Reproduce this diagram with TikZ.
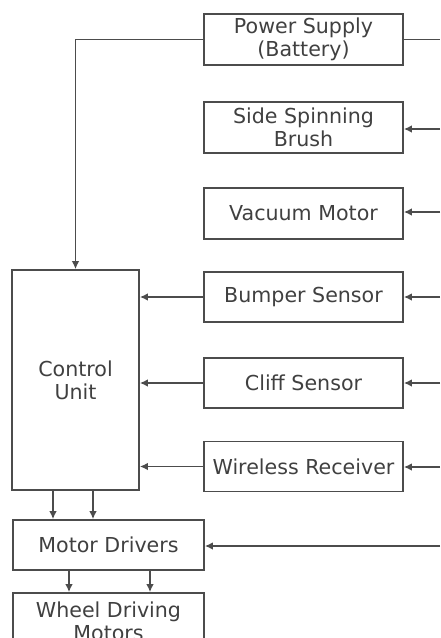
\documentclass[tikz,border=0pt]{standalone}
\usepackage{fontspec}
\setmainfont{DejaVu Sans}
\usetikzlibrary{arrows.meta}

\begin{document}
\begin{tikzpicture}[x=0.5pt,y=-0.5pt,
  blk/.style={draw=black!70,line width=0.85pt,text=black!75,align=center,inner sep=0pt,font=\fontsize{10.3}{11.5}\selectfont},
  sig/.style={draw=black!70,line width=0.85pt,-{Latex[length=4pt,width=3.8pt]}}]
\useasboundingbox (0,0) rectangle (440,638);
\node[blk,minimum width=99.5pt,minimum height=25.5pt] (psu) at (303.5,39.5) {Power Supply\\(Battery)};
\node[blk,minimum width=99.5pt,minimum height=25.5pt] (brush) at (303.5,127.5) {Side Spinning\\Brush};
\node[blk,minimum width=99.5pt,minimum height=25.5pt] (vac) at (303.5,213.5) {Vacuum Motor};
\node[blk,minimum width=99.5pt,minimum height=25pt] (bump) at (303.5,297) {Bumper Sensor};
\node[blk,minimum width=99.5pt,minimum height=25pt] (cliff) at (303.5,383) {Cliff Sensor};
\node[blk,minimum width=99.5pt,minimum height=25pt] (wire) at (303.5,466.5) {Wireless Receiver};
\node[blk,minimum width=63.5pt,minimum height=110pt] (ctrl) at (75.5,380) {Control\\Unit};
\node[blk,minimum width=95.5pt,minimum height=25pt] (drv) at (108.5,545) {Motor Drivers};
\node[blk,minimum width=95.5pt,minimum height=28pt] (whl) at (108.5,621) {Wheel Driving\\Motors};
% bus on the right edge
\foreach \nm/\yy in {psu/39.5,brush/129,vac/212,bump/297,cliff/383,wire/467,drv/546}
  \coordinate (r\nm) at (440,\yy);
\draw[sig,-] (psu.east) -- (rpsu);
\foreach \nm in {brush,vac,bump,cliff,wire,drv}
  \draw[sig] (r\nm) -- (r\nm -| \nm.east);
\draw[sig] (psu.west) -| (ctrl.north);
\foreach \nm in {bump,cliff,wire}
  \draw[sig] (\nm.west) -- (\nm.west -| ctrl.east);
\foreach \xx in {53,93}
  \draw[sig] (ctrl.south -| \xx,0) -- (drv.north -| \xx,0);
\foreach \xx in {69,150}
  \draw[sig] (drv.south -| \xx,0) -- (whl.north -| \xx,0);
\end{tikzpicture}
\end{document}
